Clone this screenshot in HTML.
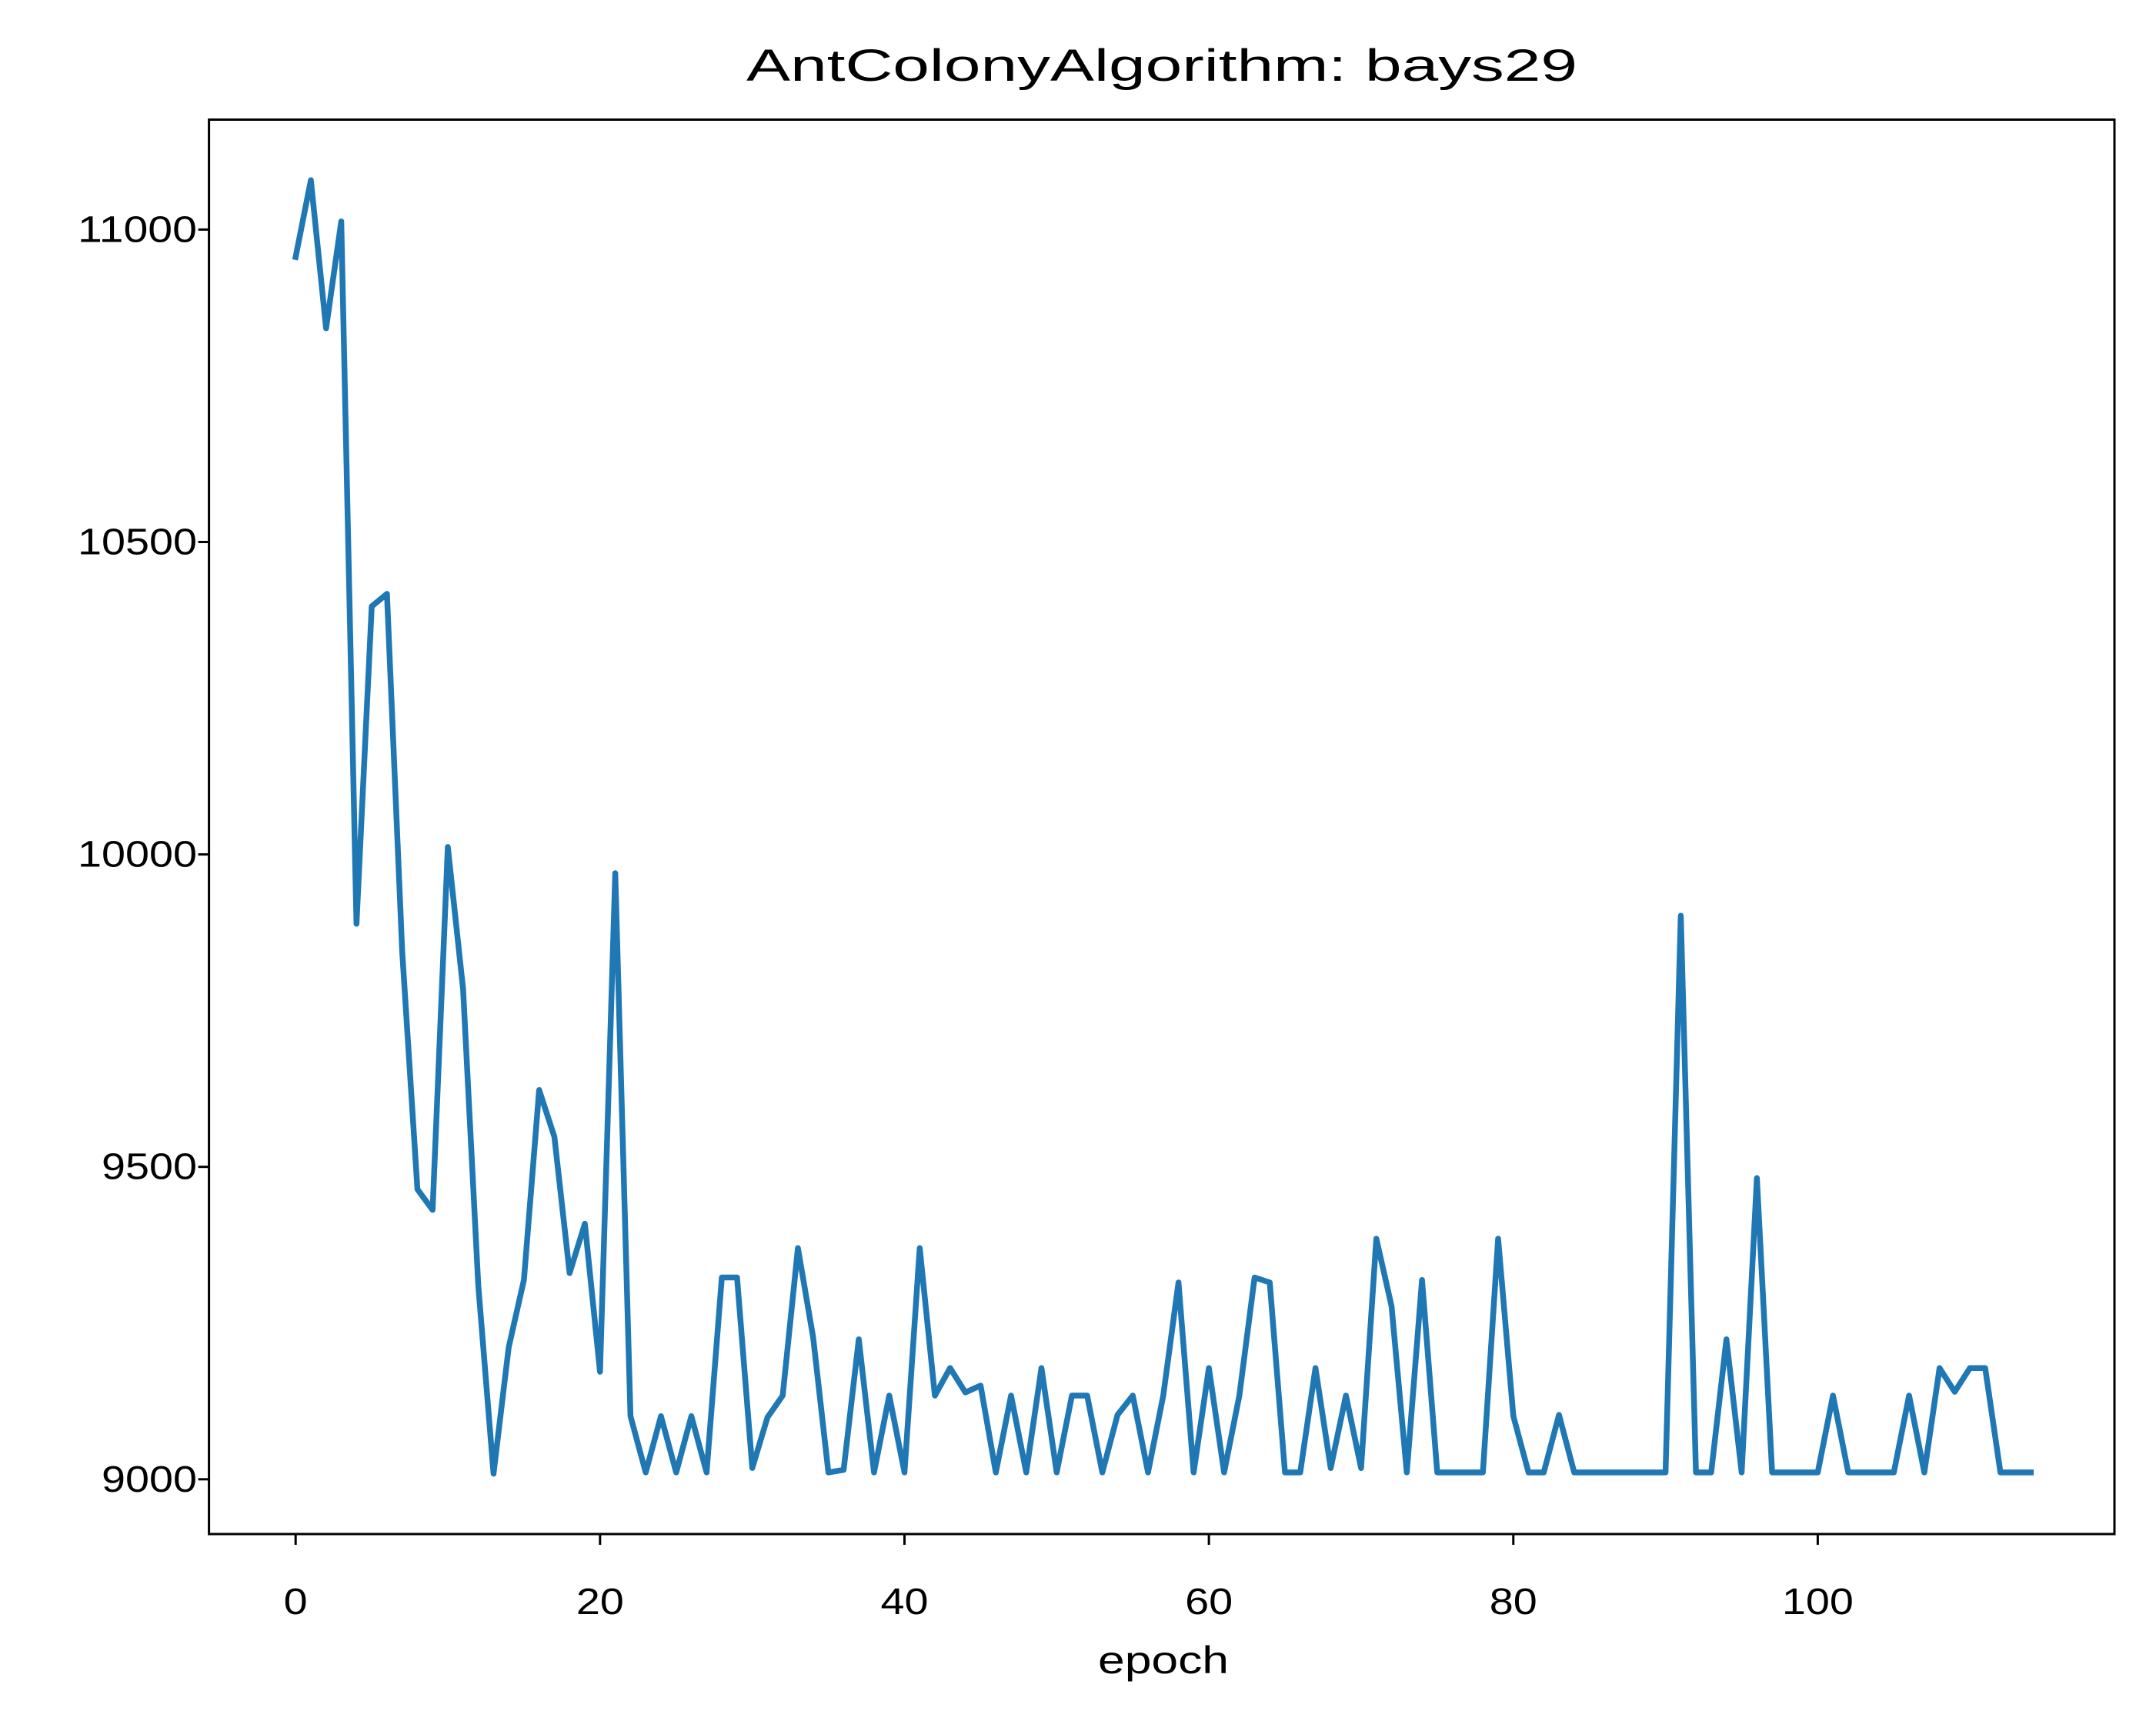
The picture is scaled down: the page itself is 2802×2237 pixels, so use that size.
<!DOCTYPE html>
<html><head><meta charset="utf-8"><style>
html,body{margin:0;padding:0;background:#fff;}
svg{display:block;}
text{font-family:"Liberation Sans","WenQuanYi Zen Hei",sans-serif;fill:#000;}
</style></head><body>
<svg id="chart" width="2802" height="2237" viewBox="0 0 2802 2237" xmlns="http://www.w3.org/2000/svg">
<rect x="0" y="0" width="2802" height="2237" fill="#fff"/>
<text x="1510" y="105" font-size="58" text-anchor="middle" textLength="1080" lengthAdjust="spacingAndGlyphs">AntColonyAlgorithm: bays29</text>
<g id="axes"></g>
<text x="1512" y="2175" font-size="50" text-anchor="middle" textLength="170" lengthAdjust="spacingAndGlyphs">epoch</text>
</svg>
<script>
const epochs = [];
for (let i = 0; i < 115; i++) epochs.push(i);
const values = [10956,11079,10842,11013,9889,10397,10417,9845,9464,9431,
10012,9785,9310,9009,9211,9319,9623,9548,9330,9409,
9172,9970,9101,9011,9101,9011,9101,9011,9323,9323,
9018,9099,9134,9370,9227,9011,9015,9224,9011,9134,
9011,9370,9134,9178,9139,9150,9011,9134,9011,9178,
9011,9134,9134,9011,9103,9134,9011,9134,9315,9011,
9178,9011,9134,9323,9315,9011,9011,9178,9018,9134,
9018,9385,9277,9011,9319,9011,9011,9011,9011,9385,
9101,9011,9011,9103,9011,9011,9011,9011,9011,9011,
9011,9902,9011,9011,9224,9011,9482,9011,9011,9011,
9011,9134,9011,9011,9011,9011,9134,9011,9178,9140,
9178,9178,9011,9011,9011];
const xTicks = [0,20,40,60,80,100];
const yTicks = [9000,9500,10000,10500,11000];

const L=271.6,R=2748,T=155.5,B=1994;
function xs(v){return 384.2+(v-0)*(2362.4-384.2)/100;}
function ys(v){return 1922.8-(v-9000)*(1922.8-298.4)/2000;}
const NS="http://www.w3.org/2000/svg";
const g=document.getElementById('axes');
function mk(tag,attrs){const e=document.createElementNS(NS,tag);for(const k in attrs)e.setAttribute(k,attrs[k]);g.appendChild(e);return e;}

let d='';
epochs.forEach((e,i)=>{d+=(i?'L':'M')+xs(e).toFixed(1)+','+ys(values[i]).toFixed(1);});
const line=mk('path',{d:d,fill:'none',stroke:'#1f77b4','stroke-width':7.5,'stroke-linejoin':'round','stroke-linecap':'square'});



xTicks.forEach(t=>{
  const tk=mk('line',{x1:xs(t),x2:xs(t),y1:B,y2:B+14,stroke:'#000','stroke-width':3});
  
  
  const s=String(t);
  const lb=mk('text',{x:xs(t),y:2098,'font-size':48,'text-anchor':'middle',textLength:s.length*31,lengthAdjust:'spacingAndGlyphs'});
  lb.textContent=s;
  
  
});
yTicks.forEach(t=>{
  const tk=mk('line',{x1:L-14,x2:L,y1:ys(t),y2:ys(t),stroke:'#000','stroke-width':3});
  
  
  const s=String(t);
  const lb=mk('text',{x:256,y:ys(t)+16,'font-size':48,'text-anchor':'end',textLength:s.length*31,lengthAdjust:'spacingAndGlyphs'});
  lb.textContent=s;
  
  
});
const frame=mk('rect',{x:L,y:T,width:R-L,height:B-T,fill:'none',stroke:'#000','stroke-width':3});


</script>
</body></html>
